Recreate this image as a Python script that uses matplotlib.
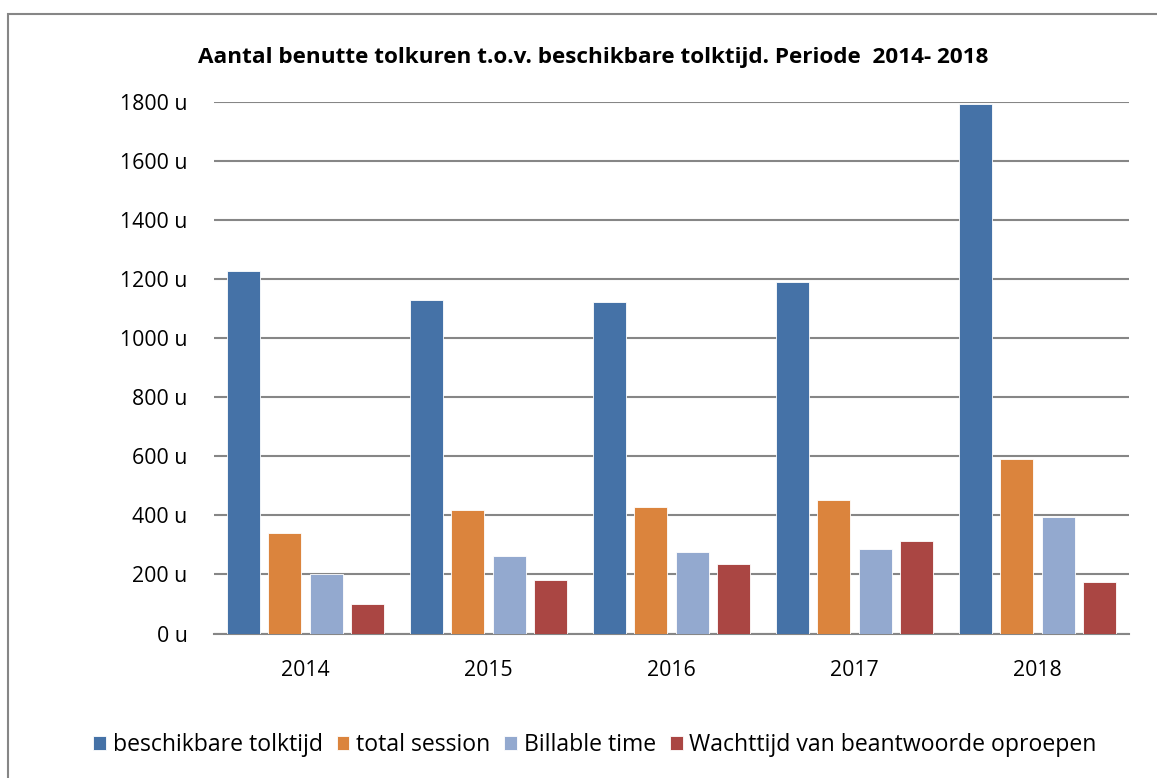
import numpy as np
import matplotlib
matplotlib.use('Agg')
import matplotlib.pyplot as plt
from matplotlib.patches import Rectangle
from matplotlib.ticker import FuncFormatter

plt.rcParams['font.family'] = ['Open Sans', 'DejaVu Sans']

# ---- Data (hours per year) ----
years = ['2014', '2015', '2016', '2017', '2018']
beschikbaar = [1229, 1129, 1124, 1192, 1792]
total_session = [339, 419, 428, 453, 591]
billable = [200, 262, 277, 286, 395]
wachttijd = [99, 181, 235, 314, 176]

series_names = ['beschikbare tolktijd', 'total session', 'Billable time',
                'Wachttijd van beantwoorde oproepen']
series = [beschikbaar, total_session, billable, wachttijd]
colors = ['#4572A7', '#DB843D', '#93A9CF', '#AA4643']

fig = plt.figure(figsize=(11.57, 7.78), dpi=100)
ax = fig.add_axes([214 / 1157, 1 - 633.5 / 778, (1129 - 214) / 1157, (633.5 - 102) / 778])

x = np.arange(len(years))
width = 0.18
step = 0.226
for i, (vals, name, col) in enumerate(zip(series, series_names, colors)):
    ax.bar(x + (i - 1.5) * step, vals, width, color=col, label=name,
           edgecolor='white', linewidth=0.6, zorder=3)

ax.set_xlim(-0.5, len(years) - 0.5)
ax.set_ylim(0, 1800)
ax.set_yticks(np.arange(0, 1801, 200))
ax.yaxis.set_major_formatter(FuncFormatter(lambda v, p: f'{int(v)} u'))
ax.set_xticks(x)
ax.set_xticklabels(years)
ax.tick_params(axis='both', length=0, labelsize=15.3, colors='black')
ax.tick_params(axis='y', pad=19)
ax.tick_params(axis='x', pad=19)
ax.grid(axis='y', color='#868686', linewidth=1.5, zorder=0)
for s in ['top', 'right', 'left']:
    ax.spines[s].set_visible(False)
ax.spines['bottom'].set_color('#868686')
ax.spines['bottom'].set_linewidth(1.5)

fig.text(593 / 1157, 1 - 57 / 778,
         'Aantal benutte tolkuren t.o.v. beschikbare tolktijd. Periode  2014- 2018',
         ha='center', va='center', fontsize=16.2, fontweight='bold')

fig.legend(loc='center', bbox_to_anchor=(595 / 1157, 1 - 745 / 778), ncol=4,
           frameon=False, fontsize=16.6, handlelength=0.55, handleheight=0.55,
           handletextpad=0.3, columnspacing=0.6)

# outer chart frame (clipped at right and bottom in the reference)
fig.patches.append(Rectangle((7.5 / 1157, -0.05), 1.2, 1.05 - 14 / 778,
                             transform=fig.transFigure, fill=False,
                             edgecolor='#868686', linewidth=1.5))

fig.savefig('out.png', dpi=100)
